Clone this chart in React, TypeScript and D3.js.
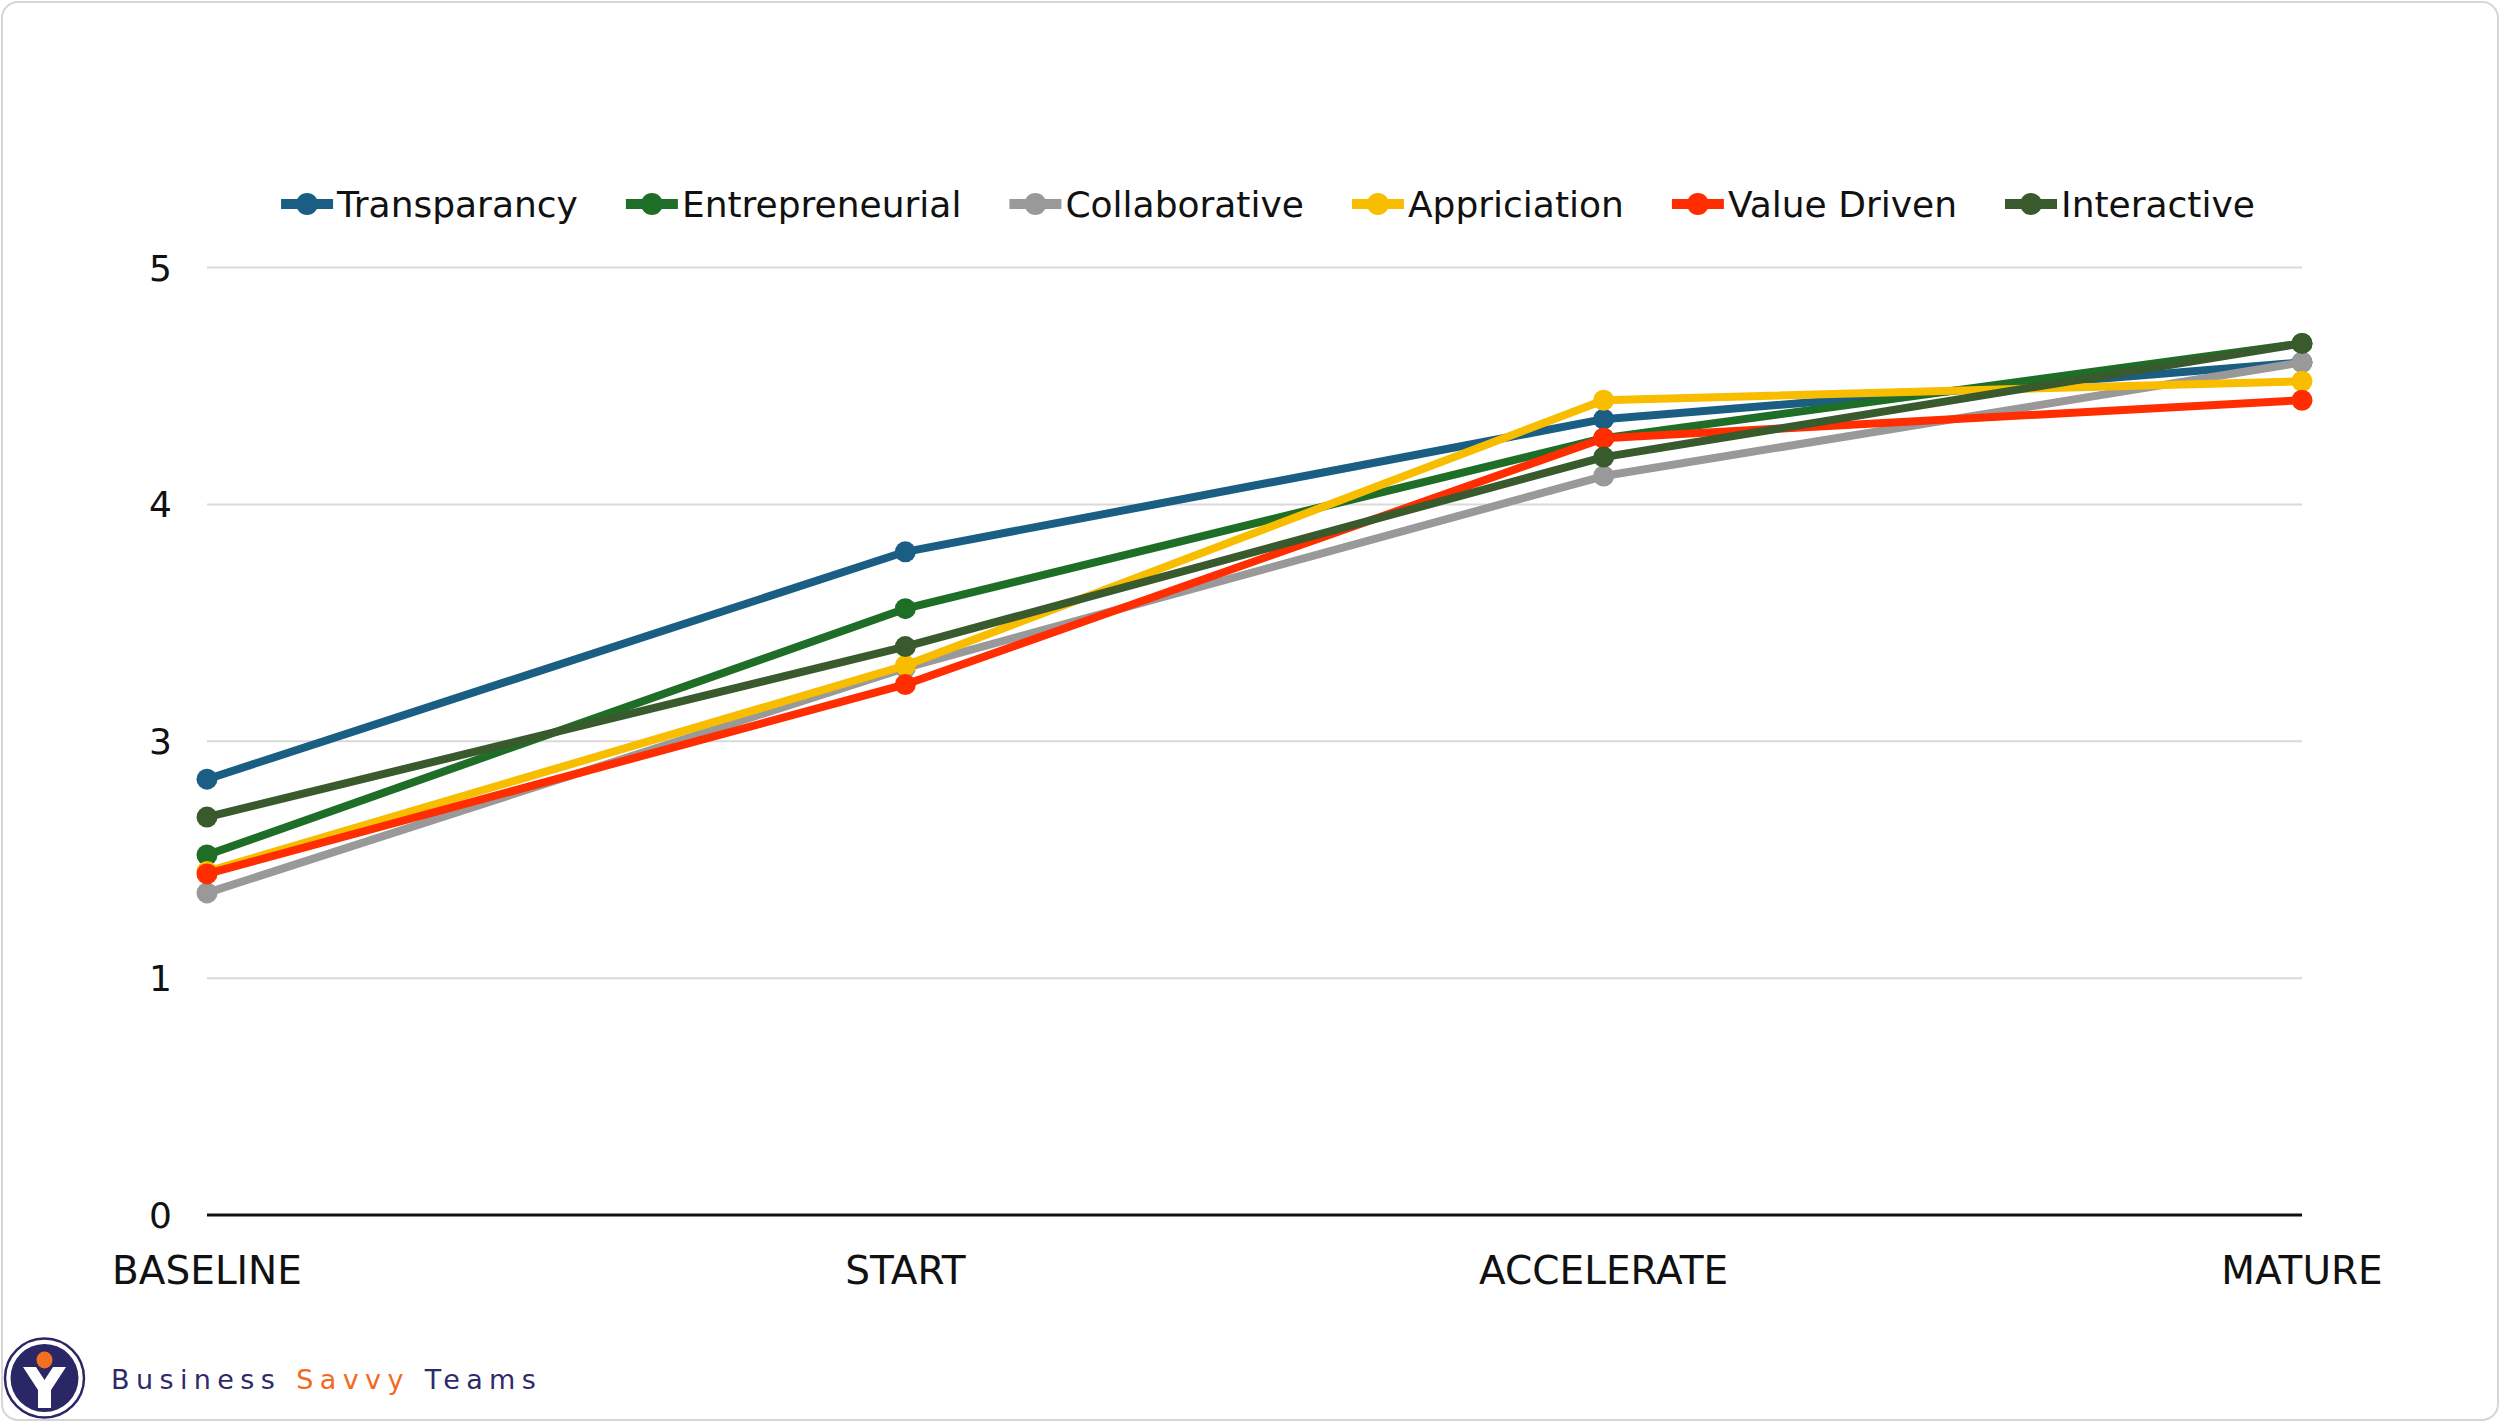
import { useEffect, useRef } from "react";
import * as d3 from "d3";

const categories = ["BASELINE", "START", "ACCELERATE", "MATURE"];

const seriesNames = [
  "Transparancy",
  "Entrepreneurial",
  "Collaborative",
  "Appriciation",
  "Value Driven",
  "Interactive",
];
const seriesColors = ["#1a5e84", "#1e6e28", "#999999", "#f9bd00", "#ff2d00", "#385a2c"];

const transparancy = [2.84, 3.8, 4.36, 4.6];
const entrepreneurial = [2.52, 3.56, 4.28, 4.68];
const collaborative = [2.36, 3.31, 4.12, 4.6];
const appriciation = [2.45, 3.32, 4.44, 4.52];
const valueDriven = [2.44, 3.24, 4.28, 4.44];
const interactive = [2.68, 3.4, 4.2, 4.68];

// gridline positions and the labels the original chart printed next to them
const yTickValues = [1, 2, 3, 4, 5];
const yTickLabels = ["0", "1", "3", "4", "5"];

const W = 2500;
const H = 1422;
const FONT = "'DejaVu Sans', sans-serif";

export default function App() {
  const ref = useRef<SVGSVGElement>(null);

  useEffect(() => {
    if (!ref.current) return;
    const svg = d3.select(ref.current);
    svg.selectAll("*").remove();

    const values = [transparancy, entrepreneurial, collaborative, appriciation, valueDriven, interactive];
    const series = seriesNames.map((name, i) => ({
      name,
      color: seriesColors[i],
      points: categories.map((c, j) => ({ cat: c, v: values[i][j] })),
    }));

    // card
    svg
      .append("rect")
      .attr("x", 2)
      .attr("y", 2)
      .attr("width", W - 4)
      .attr("height", H - 4)
      .attr("rx", 16)
      .attr("fill", "#fff")
      .attr("stroke", "#d6d6d6")
      .attr("stroke-width", 2);

    const x = d3.scalePoint<string>().domain(categories).range([207, 2302]).padding(0);
    const y = d3.scaleLinear().domain([1, 5]).range([1215, 267.6]);

    // gridlines
    svg
      .append("g")
      .selectAll("line")
      .data(yTickValues.slice(1))
      .join("line")
      .attr("x1", 207)
      .attr("x2", 2302)
      .attr("y1", (d) => y(d))
      .attr("y2", (d) => y(d))
      .attr("stroke", "#d9d9d9")
      .attr("stroke-width", 2);

    // y labels
    svg
      .append("g")
      .selectAll("text")
      .data(yTickValues)
      .join("text")
      .attr("x", 172)
      .attr("y", (d) => y(d) + 13)
      .attr("text-anchor", "end")
      .attr("font-family", FONT)
      .attr("font-size", 36)
      .attr("fill", "#111")
      .text((d, i) => yTickLabels[i]);

    // x axis
    svg
      .append("line")
      .attr("x1", 207)
      .attr("x2", 2302)
      .attr("y1", y(1))
      .attr("y2", y(1))
      .attr("stroke", "#111")
      .attr("stroke-width", 3);

    svg
      .append("g")
      .selectAll("text")
      .data(categories)
      .join("text")
      .attr("x", (d) => x(d) ?? 0)
      .attr("y", 1284)
      .attr("text-anchor", "middle")
      .attr("font-family", FONT)
      .attr("font-size", 39)
      .attr("fill", "#111")
      .text((d) => d);

    // lines + markers
    const line = d3
      .line<{ cat: string; v: number }>()
      .x((d) => x(d.cat) ?? 0)
      .y((d) => y(d.v));

    series.forEach((s) => {
      const g = svg.append("g");
      g.append("path")
        .datum(s.points)
        .attr("fill", "none")
        .attr("stroke", s.color)
        .attr("stroke-width", 8)
        .attr("stroke-linejoin", "round")
        .attr("d", line);
      g.selectAll("circle")
        .data(s.points)
        .join("circle")
        .attr("cx", (d) => x(d.cat) ?? 0)
        .attr("cy", (d) => y(d.v))
        .attr("r", 10.5)
        .attr("fill", s.color);
    });

    // legend, laid out from measured text widths
    const legend = svg.append("g");
    const legendY = 204;
    const items = series.map((s) => {
      const g = legend.append("g");
      g.append("line")
        .attr("x1", 0)
        .attr("x2", 52)
        .attr("y1", legendY)
        .attr("y2", legendY)
        .attr("stroke", s.color)
        .attr("stroke-width", 10);
      g.append("circle").attr("cx", 26).attr("cy", legendY).attr("r", 11).attr("fill", s.color);
      const t = g
        .append("text")
        .attr("x", 56)
        .attr("y", legendY + 13)
        .attr("font-family", FONT)
        .attr("font-size", 36)
        .attr("fill", "#111")
        .text(s.name);
      const w = (t.node() as SVGTextElement).getComputedTextLength();
      return { g, w: 56 + w };
    });
    const gap = 48;
    const total = d3.sum(items, (d) => d.w) + gap * (items.length - 1);
    let cx = 1268 - total / 2;
    items.forEach((it) => {
      it.g.attr("transform", `translate(${cx},0)`);
      cx += it.w + gap;
    });

    // logo
    const logo = svg.append("g");
    logo
      .append("circle")
      .attr("cx", 44.5)
      .attr("cy", 1378)
      .attr("r", 39.5)
      .attr("fill", "#fff")
      .attr("stroke", "#2a2766")
      .attr("stroke-width", 2.5);
    logo.append("circle").attr("cx", 44.5).attr("cy", 1378).attr("r", 34).attr("fill", "#2a2766");
    logo
      .append("path")
      .attr("d", "M23,1367 L36,1367 L44.5,1380 L53,1367 L66,1367 L51,1390 L51,1408 L38,1408 L38,1390 Z")
      .attr("fill", "#fff");
    logo.append("ellipse").attr("cx", 44.5).attr("cy", 1360).attr("rx", 8).attr("ry", 8.5).attr("fill", "#f36f21");

    const brand = svg
      .append("text")
      .attr("x", 111)
      .attr("y", 1389)
      .attr("font-family", FONT)
      .attr("font-size", 27)
      .attr("letter-spacing", 6.4)
      .attr("fill", "#2e2a6b");
    brand.append("tspan").text("Business ");
    brand.append("tspan").attr("fill", "#f26a21").text("Savvy");
    brand.append("tspan").text(" Teams");
  }, []);

  return (
    <svg
      ref={ref}
      width={W}
      height={H}
      style={{ position: "absolute", left: 0, top: 0, background: "#fff" }}
    />
  );
}
